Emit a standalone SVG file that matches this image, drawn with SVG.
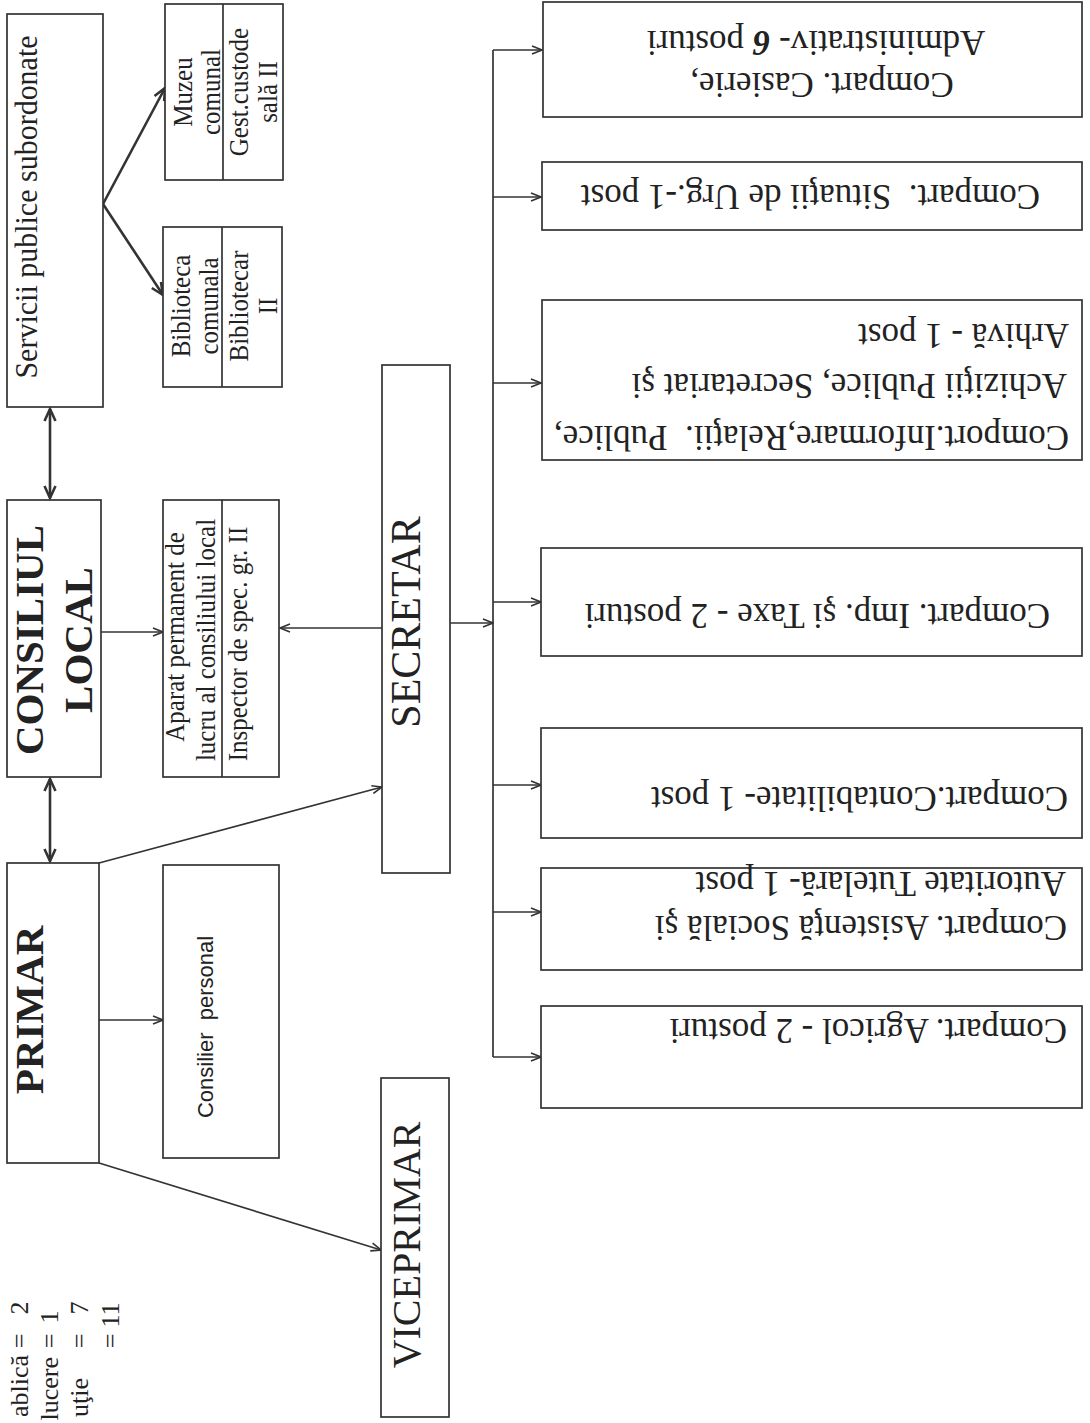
<svg xmlns="http://www.w3.org/2000/svg" width="1090" height="1423" viewBox="0 0 1090 1423">
<style>
.box{fill:#fff;stroke:#333;stroke-width:1.7}
.ln{fill:none;stroke:#333;stroke-width:1.7}
.lb{fill:none;stroke:#333;stroke-width:2.6}
.t{font-family:"Liberation Serif","Times New Roman",serif;fill:#222}
.s25{font-size:25px}
.s35{font-size:35px}
.big{font-size:41px;font-weight:bold}
.mid{text-anchor:middle}
</style>
<defs>
<marker id="a" viewBox="0 0 12 10" refX="11" refY="5" markerWidth="12" markerHeight="10" markerUnits="userSpaceOnUse" orient="auto-start-reverse">
<path d="M1,1 L11,5 L1,9" fill="none" stroke="#333" stroke-width="1.6"/>
</marker>
<marker id="b" viewBox="0 0 16 14" refX="14" refY="7" markerWidth="16" markerHeight="14" markerUnits="userSpaceOnUse" orient="auto-start-reverse">
<path d="M2,1.5 L14,7 L2,12.5" fill="none" stroke="#333" stroke-width="2.6"/>
</marker>
</defs>
<rect width="1090" height="1423" fill="#fff"/>

<g id="connectors">
<line class="lb" x1="50" y1="409" x2="50" y2="498" marker-start="url(#b)" marker-end="url(#b)"/>
<line class="lb" x1="103" y1="204" x2="165" y2="88" marker-end="url(#b)"/>
<line class="lb" x1="103" y1="204" x2="163" y2="295" marker-end="url(#b)"/>
<line class="lb" x1="50" y1="779" x2="50" y2="861" marker-start="url(#b)" marker-end="url(#b)"/>
<line class="ln" x1="101" y1="632" x2="163" y2="632" marker-end="url(#a)"/>
<line class="ln" x1="382" y1="628" x2="280" y2="628" marker-end="url(#a)"/>
<line class="ln" x1="99" y1="863" x2="382" y2="787" marker-end="url(#a)"/>
<line class="ln" x1="99" y1="1020" x2="163" y2="1020" marker-end="url(#a)"/>
<line class="ln" x1="99" y1="1163" x2="381" y2="1250" marker-end="url(#a)"/>
<line class="ln" x1="450" y1="623" x2="493" y2="623" marker-end="url(#a)"/>
<line class="ln" x1="493" y1="50" x2="493" y2="1057"/>
<line class="ln" x1="493" y1="50" x2="542" y2="50" marker-end="url(#a)"/>
<line class="ln" x1="493" y1="197" x2="541" y2="197" marker-end="url(#a)"/>
<line class="ln" x1="493" y1="383" x2="541" y2="383" marker-end="url(#a)"/>
<line class="ln" x1="493" y1="602" x2="541" y2="602" marker-end="url(#a)"/>
<line class="ln" x1="493" y1="785" x2="541" y2="785" marker-end="url(#a)"/>
<line class="ln" x1="493" y1="912" x2="541" y2="912" marker-end="url(#a)"/>
<line class="ln" x1="493" y1="1057" x2="541" y2="1057" marker-end="url(#a)"/>
</g>

<g id="servicii">
<rect class="box" x="7" y="14" width="96" height="393"/>
<text class="t mid" font-size="30" transform="translate(37,207) rotate(-90) scale(1,1.05)">Servicii publice subordonate</text>
</g>

<g id="muzeu">
<rect class="box" x="165" y="4" width="118" height="176"/>
<line class="ln" x1="223" y1="4" x2="223" y2="180"/>
<text class="t s25 mid" transform="translate(192,92) rotate(-90) scale(1,1.1)">Muzeu</text>
<text class="t s25 mid" transform="translate(220,92) rotate(-90) scale(1,1.1)">comunal</text>
<text class="t s25 mid" transform="translate(248,92) rotate(-90) scale(1,1.1)">Gest.custode</text>
<text class="t s25 mid" transform="translate(277,92) rotate(-90) scale(1,1.1)">sală II</text>
</g>

<g id="biblioteca">
<rect class="box" x="163" y="227" width="119" height="160"/>
<line class="ln" x1="222" y1="227" x2="222" y2="387"/>
<text class="t s25 mid" transform="translate(190,306) rotate(-90) scale(1,1.1)">Biblioteca</text>
<text class="t s25 mid" transform="translate(218,306) rotate(-90) scale(1,1.1)">comunala</text>
<text class="t s25 mid" transform="translate(248,306) rotate(-90) scale(1,1.1)">Bibliotecar</text>
<text class="t s25 mid" transform="translate(277,306) rotate(-90) scale(1,1.1)">II</text>
</g>

<g id="consiliul">
<rect class="box" x="7" y="500" width="94" height="277"/>
<text class="t big mid" transform="translate(43,640) rotate(-90)">CONSILIUL</text>
<text class="t big mid" transform="translate(92,640) rotate(-90)">LOCAL</text>
</g>

<g id="aparat">
<rect class="box" x="163" y="500" width="116" height="277"/>
<line class="ln" x1="222" y1="500" x2="222" y2="777"/>
<text class="t s25 mid" transform="translate(184,637) rotate(-90) scale(1,1.1)">Aparat permanent de</text>
<text class="t s25 mid" transform="translate(215,640) rotate(-90) scale(1,1.1)">lucru al consiliului local</text>
<text class="t s25 mid" transform="translate(247,644) rotate(-90) scale(1,1.1)">Inspector de spec. gr. II</text>
</g>

<g id="secretar">
<rect class="box" x="382" y="365" width="68" height="508"/>
<text class="t mid" font-size="42" transform="translate(420,622) rotate(-90)">SECRETAR</text>
</g>

<g id="primar">
<rect class="box" x="7" y="863" width="92" height="300"/>
<text class="t big mid" transform="translate(43,1010) rotate(-90)">PRIMAR</text>
</g>

<g id="consilier">
<rect class="box" x="163" y="865" width="116" height="293"/>
<text class="mid" font-family="'Liberation Sans',Arial,sans-serif" font-size="22" fill="#222" transform="translate(213,1027) rotate(-90)" xml:space="preserve">Consilier  personal</text>
</g>

<g id="viceprimar">
<rect class="box" x="381" y="1078" width="68" height="339"/>
<text class="t mid" font-size="40" transform="translate(420,1245) rotate(-90)">VICEPRIMAR</text>
</g>

<g id="legend" class="t" font-size="26">
<text text-anchor="end" transform="translate(28,1355) rotate(-90)">ablică</text>
<text class="mid" transform="translate(28,1341) rotate(-90)">=</text>
<text class="mid" transform="translate(28,1308) rotate(-90)">2</text>
<text text-anchor="end" transform="translate(58,1357) rotate(-90)">lucere</text>
<text class="mid" transform="translate(58,1341) rotate(-90)">=</text>
<text class="mid" transform="translate(58,1317) rotate(-90)">1</text>
<text text-anchor="end" transform="translate(88,1378) rotate(-90)">uţie</text>
<text class="mid" transform="translate(88,1341) rotate(-90)">=</text>
<text class="mid" transform="translate(88,1308) rotate(-90)">7</text>
<text class="mid" transform="translate(119,1341) rotate(-90)">=</text>
<text class="mid" transform="translate(119,1315) rotate(-90)">11</text>
</g>

<g id="casierie">
<rect class="box" x="543" y="2" width="539" height="115"/>
<text class="t s35 mid" transform="translate(822,73) rotate(180)">Compart. Casierie,</text>
<text class="t s35 mid" transform="translate(816,31) rotate(180)">Administrativ- <tspan font-weight="bold" font-style="italic">6</tspan> posturi</text>
</g>

<g id="situatii">
<rect class="box" x="542" y="162" width="540" height="68"/>
<text class="t s35" transform="translate(1040,185) rotate(180)" xml:space="preserve">Compart.  Situaţii de Urg.-1 post</text>
</g>

<g id="informare">
<rect class="box" x="542" y="300" width="540" height="160"/>
<text class="t s35" transform="translate(1069,426) rotate(180)" xml:space="preserve">Comport.Informare,Relaţii.  Publice,</text>
<text class="t s35" transform="translate(1067,374) rotate(180)">Achiziţii Publice, Secretariat şi</text>
<text class="t s35" transform="translate(1069,324) rotate(180)">Arhivă - 1 post</text>
</g>

<g id="impozite">
<rect class="box" x="541" y="548" width="541" height="108"/>
<text class="t s35" transform="translate(1050,604) rotate(180)">Compart. Imp. şi Taxe - 2 posturi</text>
</g>

<g id="contabilitate">
<rect class="box" x="541" y="728" width="541" height="110"/>
<text class="t s35" transform="translate(1068,787) rotate(180)">Compart.Contabilitate- 1 post</text>
</g>

<g id="asistenta">
<rect class="box" x="541" y="868" width="541" height="102"/>
<text class="t s35" transform="translate(1067,916) rotate(180)">Compart. Asistenţă Socială şi</text>
<text class="t s35" transform="translate(1066,872) rotate(180)">Autoritate Tutelară- 1 post</text>
</g>

<g id="agricol">
<rect class="box" x="541" y="1006" width="541" height="102"/>
<text class="t s35" transform="translate(1067,1019) rotate(180)">Compart. Agricol - 2 posturi</text>
</g>
</svg>
